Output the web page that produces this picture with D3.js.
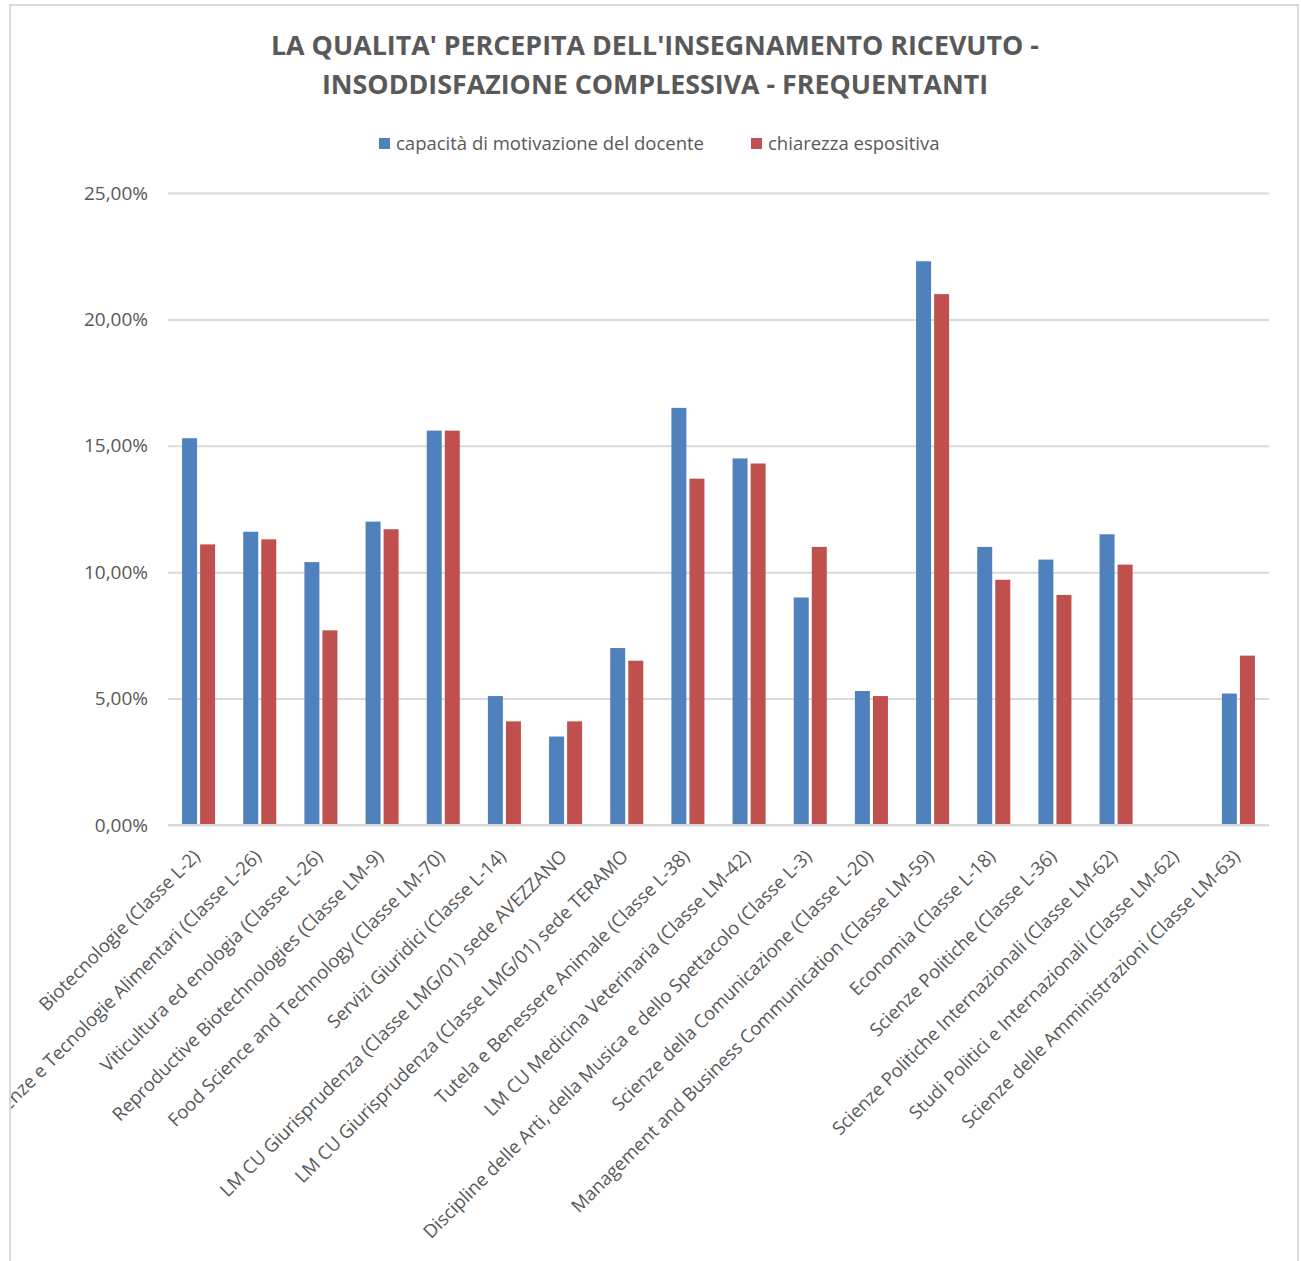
<!DOCTYPE html>
<html>
<head>
<meta charset="utf-8">
<script src="https://cdn.jsdelivr.net/npm/d3@7"></script>
<style>
  body { margin: 0; background: #fff; }
  text { font-family: "Open Sans", sans-serif; fill: #595959; }
</style>
</head>
<body>
<svg id="chart"></svg>
<script>
let categories = [
  "Biotecnologie (Classe L-2)",
  "Scienze e Tecnologie Alimentari (Classe L-26)",
  "Viticultura ed enologia (Classe L-26)",
  "Reproductive Biotechnologies (Classe LM-9)",
  "Food Science and Technology (Classe LM-70)",
  "Servizi Giuridici (Classe L-14)",
  "LM CU  Giurisprudenza (Classe LMG/01) sede AVEZZANO",
  "LM CU Giurisprudenza (Classe LMG/01) sede TERAMO",
  "Tutela e Benessere Animale (Classe L-38)",
  "LM CU Medicina Veterinaria (Classe LM-42)",
  "Discipline delle Arti, della Musica e dello Spettacolo (Classe L-3)",
  "Scienze della Comunicazione (Classe L-20)",
  "Management and Business Communication (Classe LM-59)",
  "Economia (Classe L-18)",
  "Scienze Politiche (Classe L-36)",
  "Scienze Politiche Internazionali (Classe LM-62)",
  "Studi Politici e Internazionali (Classe LM-62)",
  "Scienze delle Amministrazioni (Classe LM-63)"
];

let seriesNames = ["capacità di motivazione del docente", "chiarezza espositiva"];

let motivazione = [15.3, 11.6, 10.4, 12.0, 15.6, 5.1, 3.5, 7.0, 16.5, 14.5, 9.0, 5.3, 22.3, 11.0, 10.5, 11.5, null, 5.2];
let chiarezza = [11.1, 11.3, 7.7, 11.7, 15.6, 4.1, 4.1, 6.5, 13.7, 14.3, 11.0, 5.1, 21.0, 9.7, 9.1, 10.3, null, 6.7];

let yTicks = [0, 5, 10, 15, 20, 25];

let colors = ["#4f81bd", "#c0504d"];

let width = 1301;
let height = 1261;
let plotLeft = 168;
let plotRight = 1269;
let plotTop = 193;
let plotBottom = 825;

let svg = d3.select('#chart').attr('width', width).attr('height', height);

// chart area is clipped to its frame, like the spreadsheet export
svg.append('clipPath').attr('id', 'frame-clip')
  .append('rect')
  .attr('x', 11).attr('y', 6)
  .attr('width', 1286).attr('height', 1270);

svg.append('rect')
  .attr('x', 10).attr('y', 5)
  .attr('width', 1288).attr('height', 1270)
  .attr('fill', 'none')
  .attr('stroke', '#d9d9d9')
  .attr('stroke-width', 2);

let chart = svg.append('g').attr('clip-path', 'url(#frame-clip)');

let xScale = d3.scaleBand()
  .domain(categories)
  .range([plotLeft, plotRight])
  .paddingInner(0.46)
  .paddingOuter(0.23);

let inner = d3.scaleBand()
  .domain([0, 1])
  .range([0, xScale.bandwidth()])
  .paddingInner(0.17);

let yScale = d3.scaleLinear()
  .domain([0, 25])
  .range([plotBottom, plotTop]);

// gridlines + y labels
let yAxis = d3.axisLeft(yScale)
  .tickValues(yTicks)
  .tickSize(-(plotRight - plotLeft))
  .tickPadding(20)
  .tickFormat(d => d3.format('.2f')(d).replace('.', ',') + '%');

let gy = chart.append('g')
  .attr('transform', 'translate(' + plotLeft + ',0)')
  .call(yAxis);
gy.select('.domain').remove();
gy.selectAll('line').attr('stroke', '#d9d9d9').attr('stroke-width', 2);
gy.selectAll('text').style('font-size', '19px').attr('fill', '#595959');

// bars
let rows = categories.map((c, i) => ({ cat: c, vals: [motivazione[i], chiarezza[i]] }));

let groups = chart.selectAll('g.cat')
  .data(rows)
  .enter()
  .append('g')
  .attr('class', 'cat')
  .attr('transform', d => 'translate(' + xScale(d.cat) + ',0)');

groups.selectAll('rect')
  .data(d => d.vals.map((v, k) => ({ v: v, k: k })).filter(e => e.v !== null))
  .enter()
  .append('rect')
  .attr('x', e => inner(e.k))
  .attr('y', e => yScale(e.v))
  .attr('width', inner.bandwidth())
  .attr('height', e => plotBottom - yScale(e.v))
  .attr('fill', e => colors[e.k]);

// x axis line + labels
let xAxis = d3.axisBottom(xScale).tickSize(0).tickPadding(0);
let gx = chart.append('g')
  .attr('transform', 'translate(0,' + plotBottom + ')')
  .call(xAxis);
gx.select('.domain').attr('stroke', '#d9d9d9').attr('stroke-width', 2)
  .attr('d', 'M' + plotLeft + ',0H' + plotRight);
gx.selectAll('text')
  .style('font-size', '18.5px')
  .attr('text-anchor', 'end')
  .attr('fill', '#595959')
  .attr('transform', 'translate(-2,28) rotate(-45)')
  .attr('dy', '0.35em');

// title
let title = ["LA QUALITA' PERCEPITA DELL'INSEGNAMENTO RICEVUTO -", "INSODDISFAZIONE COMPLESSIVA - FREQUENTANTI"];
chart.selectAll('text.title')
  .data(title)
  .enter()
  .append('text')
  .attr('class', 'title')
  .attr('x', 655)
  .attr('y', (d, i) => 55 + i * 39)
  .attr('text-anchor', 'middle')
  .style('font-size', '26.8px')
  .style('font-weight', 'bold')
  .text(d => d);

// legend
let legendX = [379, 751];
let legend = chart.selectAll('g.legend')
  .data(seriesNames)
  .enter()
  .append('g')
  .attr('class', 'legend')
  .attr('transform', (d, i) => 'translate(' + legendX[i] + ',138)');
legend.append('rect')
  .attr('width', 11).attr('height', 11)
  .attr('fill', (d, i) => colors[i]);
legend.append('text')
  .attr('x', 17).attr('y', 12)
  .style('font-size', '18.5px')
  .text(d => d);
</script>
</body>
</html>
